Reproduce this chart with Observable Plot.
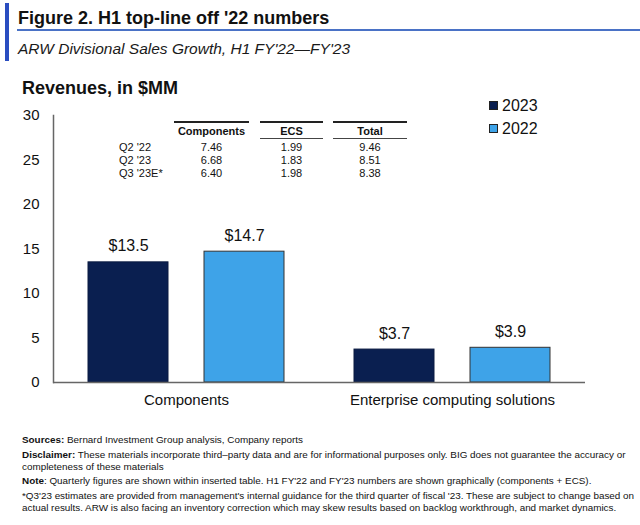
<!DOCTYPE html>
<html>
<head>
<meta charset="utf-8">
<script src="https://cdn.jsdelivr.net/npm/d3@7"></script>
<script src="https://cdn.jsdelivr.net/npm/@observablehq/plot@0.6"></script>
<style>
  html, body { margin: 0; padding: 0; background: #fff; }
  #wrap { position: relative; width: 640px; height: 525px; overflow: hidden; font-family: "Liberation Sans", Arial, sans-serif; color: #111; }
  .abs { position: absolute; }
  #accent { left: 5px; top: 3px; width: 4px; height: 58px; background: #2a4dc0; }
  #title { left: 18px; top: 8px; font-weight: bold; font-size: 18px; white-space: nowrap; }
  #titleRule { left: 17px; top: 29px; width: 623px; height: 2px; background: #4a72c6; }
  #subtitle { left: 18px; top: 40px; font-style: italic; font-size: 15.5px; white-space: nowrap; color: #1a1a1a; }
  #heading { left: 22px; top: 78px; font-weight: bold; font-size: 18px; white-space: nowrap; }
  #chart { left: 0; top: 100px; }
  .legRow { position: absolute; left: 489px; height: 16px; font-size: 16px; line-height: 16px; white-space: nowrap; }
  .legSw { display: inline-block; width: 7px; height: 7px; border: 1px solid #222; vertical-align: middle; margin-right: 4px; position: relative; top: -1px; }
  .tcell { position: absolute; font-size: 11px; line-height: 13px; white-space: nowrap; }
  .thead { font-weight: bold; text-align: center; }
  .tline { position: absolute; height: 1.5px; background: #222; }
  #notes { left: 22px; top: 434px; font-size: 9.9px; line-height: 12px; width: 618px; color: #111; }
  #notes p { margin: 0 0 2.6px 0; white-space: nowrap; }
</style>
</head>
<body>
<div id="wrap">
  <div id="accent" class="abs"></div>
  <div id="title" class="abs">Figure 2. H1 top-line off '22 numbers</div>
  <div id="titleRule" class="abs"></div>
  <div id="subtitle" class="abs">ARW Divisional Sales Growth, H1 FY'22—FY'23</div>
  <div id="heading" class="abs">Revenues, in $MM</div>
  <div id="chart" class="abs"></div>
  <div id="legend"></div>
  <div id="table"></div>
  <div id="notes" class="abs">
    <p><b>Sources:</b> Bernard Investment Group analysis, Company reports</p>
    <p><b>Disclaimer:</b> These materials incorporate third–party data and are for informational purposes only. BIG does not guarantee the accuracy or<br>completeness of these materials</p>
    <p><b>Note</b>: Quarterly figures are shown within inserted table. H1 FY'22 and FY'23 numbers are shown graphically (components + ECS).</p>
    <p>*Q3'23 estimates are provided from management's internal guidance for the third quarter of fiscal '23. These are subject to change based on<br>actual results. ARW is also facing an inventory correction which may skew results based on backlog workthrough, and market dynamics.</p>
  </div>
</div>
<script>
// ---- Data ----
const categories = ["Components", "Enterprise computing solutions"];
const years = ["2023", "2022"];
const values2023 = [13.5, 3.7];
const values2022 = [14.7, 3.9];
const yTicks = [0, 5, 10, 15, 20, 25, 30];
const colors = ["#0a1f50", "#3ea3e8"];

const tableColumns = ["Components", "ECS", "Total"];
const tableRows = ["Q2 '22", "Q2 '23", "Q3 '23E*"];
const tableComponents = ["7.46", "6.68", "6.40"];
const tableECS = ["1.99", "1.83", "1.98"];
const tableTotal = ["9.46", "8.51", "8.38"];

// ---- Build ----
const data = [];
categories.forEach((c, i) => {
  data.push({cat: c, year: "2023", value: values2023[i]});
  data.push({cat: c, year: "2022", value: values2022[i]});
});

const chart = Plot.plot({
  width: 640,
  height: 317,
  marginTop: 15,
  marginBottom: 35,
  marginLeft: 52,
  marginRight: 55,
  style: {fontFamily: "'Liberation Sans', Arial, sans-serif", fontSize: "15px", color: "#111", background: "transparent"},
  fx: {domain: categories, padding: 0, label: null, tickSize: 0, tickPadding: 12, axis: "bottom"},
  x: {domain: years, paddingInner: 0.308, paddingOuter: 0.293, axis: null},
  y: {domain: [0, 30], ticks: yTicks, tickSize: 0, tickPadding: 14, label: null},
  color: {domain: years, range: colors},
  marks: [
    Plot.barY(data, {fx: "cat", x: "year", y: "value", fill: "year", stroke: d => d.year === "2023" ? "#0a1a40" : "#333", strokeWidth: 1}),
    Plot.text(data, {fx: "cat", x: "year", y: "value", text: d => "$" + d.value.toFixed(1), dy: -16, fontSize: 16, fill: "#111"}),
    Plot.ruleY([0], {stroke: "#666", strokeWidth: 1.5}),
    Plot.frame({anchor: "left", facet: "super", stroke: "#666", strokeWidth: 1.5})
  ]
});
document.getElementById("chart").appendChild(chart);

// Legend
const legend = document.getElementById("legend");
years.forEach((y, i) => {
  const row = document.createElement("div");
  row.className = "legRow";
  row.style.top = (98 + i * 23) + "px";
  const sw = document.createElement("span");
  sw.className = "legSw";
  sw.style.background = colors[i];
  row.appendChild(sw);
  row.appendChild(document.createTextNode(y));
  legend.appendChild(row);
});

// Inset table
const table = document.getElementById("table");
const colGeom = [[174, 75], [260, 63], [333, 74]];
const colValues = [tableComponents, tableECS, tableTotal];
tableColumns.forEach((c, j) => {
  const [l, w] = colGeom[j];
  const top = document.createElement("div");
  top.className = "tline"; top.style.left = l + "px"; top.style.width = w + "px"; top.style.top = "121px";
  table.appendChild(top);
  if (j > 0) {
    const bot = document.createElement("div");
    bot.className = "tline"; bot.style.left = l + "px"; bot.style.width = w + "px"; bot.style.top = "137.5px"; bot.style.height = "1px"; bot.style.background = "#444";
    table.appendChild(bot);
  }
  const h = document.createElement("div");
  h.className = "tcell thead"; h.style.left = l + "px"; h.style.width = w + "px"; h.style.top = "124.5px";
  h.textContent = c;
  table.appendChild(h);
  colValues[j].forEach((v, i) => {
    const d = document.createElement("div");
    d.className = "tcell"; d.style.textAlign = "center";
    d.style.left = l + "px"; d.style.width = w + "px"; d.style.top = (140.5 + i * 13.3) + "px";
    d.textContent = v;
    table.appendChild(d);
  });
});
tableRows.forEach((r, i) => {
  const d = document.createElement("div");
  d.className = "tcell";
  d.style.left = "119px"; d.style.top = (140.5 + i * 13.3) + "px";
  d.textContent = r;
  table.appendChild(d);
});
</script>
</body>
</html>
